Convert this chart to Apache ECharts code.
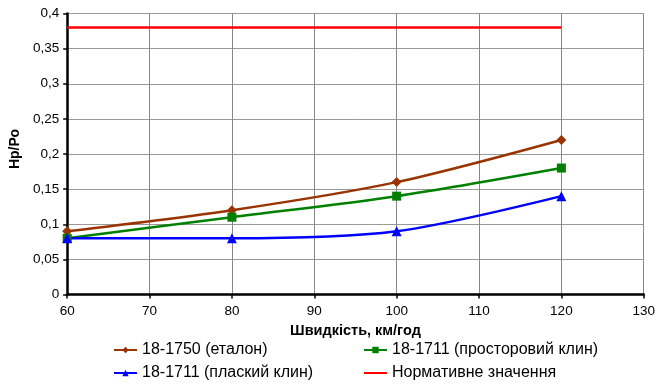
<!DOCTYPE html>
<html><head><meta charset="utf-8">
<script src="https://cdn.jsdelivr.net/npm/echarts@6/dist/echarts.min.js"></script>
<style>html,body{margin:0;padding:0;background:#fff}#c{width:658px;height:385px}</style>
</head><body><div id="c"></div>
<script>
const speeds = [60, 80, 100, 120];
const etalon = [0.09, 0.12, 0.16, 0.22];
const prostor = [0.08, 0.11, 0.14, 0.18];
const plaskyi = [0.08, 0.08, 0.09, 0.14];
const normSpeeds = [60, 120];
const norm = [0.38, 0.38];
const names = ['18-1750 (еталон)', '18-1711 (просторовий клин)', '18-1711 (плаский клин)', 'Нормативне значення'];
const colors = ['#993300', '#008000', '#0000ff', '#ff0000'];

const pairs = (xs, ys) => xs.map((x, i) => [x, ys[i]]);
const font = 'Liberation Sans, Arial, sans-serif';
const chart = echarts.init(document.getElementById('c'));
const legendPos = [[113, 342], [363, 342], [113, 365], [363, 365]];
chart.setOption({
  animation: false,
  grid: {left: 65, right: 10, top: 13.5, bottom: 90.5},
  xAxis: {
    type: 'value', min: 60, max: 130, interval: 10,
    name: 'Швидкість, км/год', nameLocation: 'middle', nameGap: 27,
    nameTextStyle: {fontFamily: font, fontWeight: 'bold', fontSize: 14.5, color: '#000'},
    axisLine: {lineStyle: {color: '#000', width: 2.5}},
    axisTick: {show: true, length: 4, lineStyle: {color: '#000', width: 1.5}},
    axisLabel: {fontFamily: font, fontSize: 13.5, color: '#000', margin: 10},
    splitLine: {show: true, lineStyle: {color: '#888', width: 1}}
  },
  yAxis: {
    type: 'value', min: 0, max: 0.4, interval: 0.05,
    name: 'Нр/Ро', nameLocation: 'middle', nameGap: 44, nameRotate: 90,
    nameTextStyle: {fontFamily: font, fontWeight: 'bold', fontSize: 14, color: '#000', padding: [0, 0, 0, 10]},
    axisLine: {show: true, lineStyle: {color: '#000', width: 2.5}},
    axisTick: {show: true, length: 4, lineStyle: {color: '#000', width: 1.5}},
    axisLabel: {fontFamily: font, fontSize: 13.5, color: '#000', margin: 8,
      formatter: v => String(Math.round(v * 100) / 100).replace('.', ',')},
    splitLine: {show: true, lineStyle: {color: '#999', width: 1}}
  },
  legend: names.map((n, i) => {
    const l = {
      data: [n], left: legendPos[i][0], top: legendPos[i][1], itemWidth: 23, itemHeight: 8,
      itemGap: 4, padding: 0,
      textStyle: {fontFamily: font, fontSize: 16, color: '#000'}
    };
    if (i === 3) l.itemStyle = {opacity: 0};
    return l;
  }),
  series: [
    {name: names[0], type: 'line', data: pairs(speeds, etalon), smooth: 0.3, symbol: 'diamond', symbolSize: 10,
      lineStyle: {color: colors[0], width: 2.5}, itemStyle: {color: colors[0]}},
    {name: names[1], type: 'line', data: pairs(speeds, prostor), smooth: 0.3, symbol: 'rect', symbolSize: 9,
      lineStyle: {color: colors[1], width: 2.5}, itemStyle: {color: colors[1]}},
    {name: names[2], type: 'line', data: pairs(speeds, plaskyi), smooth: 0.3, symbol: 'triangle', symbolSize: 10,
      lineStyle: {color: colors[2], width: 2.5}, itemStyle: {color: colors[2]}},
    {name: names[3], type: 'line', data: pairs(normSpeeds, norm), symbol: 'none',
      lineStyle: {color: colors[3], width: 2.5}, itemStyle: {color: colors[3]}}
  ]
});
</script></body></html>
